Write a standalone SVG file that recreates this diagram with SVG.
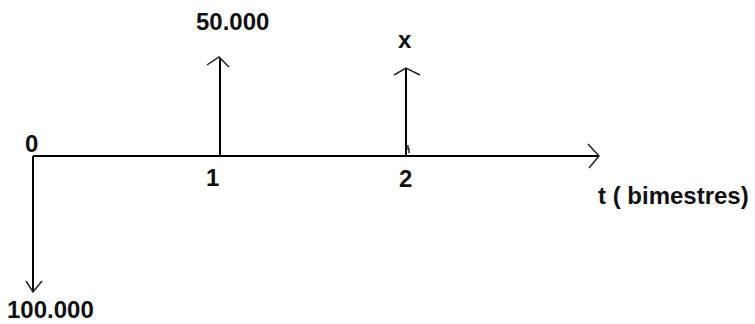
<svg xmlns="http://www.w3.org/2000/svg" width="755" height="324" viewBox="0 0 755 324">
<style>
.ln{stroke:#000;stroke-width:2;fill:none}
.hd{stroke:#222;stroke-width:1.5;fill:none;stroke-linejoin:miter}
.t{font-family:"Liberation Sans",Arial,sans-serif;font-weight:bold;font-size:24px;fill:#111}
</style>
<rect width="755" height="324" fill="#fff"/>
<g id="connectors">
<line class="ln" x1="33" y1="156" x2="598" y2="156"/>
<polyline class="hd" points="588,144 599,156 589,168"/>
<line class="ln" x1="33" y1="156" x2="33" y2="292"/>
<polyline class="hd" points="26,281 33,292 42,281"/>
<line class="ln" x1="220" y1="156" x2="220" y2="58"/>
<polyline class="hd" points="207,65 219,57 229,67"/>
<line class="ln" x1="406" y1="156" x2="406" y2="68"/>
<polyline class="hd" points="394,75 406,68 420,75"/>
<path class="hd" d="M406,146 h2 v3 h1 v4"/>
</g>
<g id="label-0"><text class="t" x="25" y="152">0</text></g>
<g id="label-1"><text class="t" x="206" y="186">1</text></g>
<g id="label-2"><text class="t" x="399" y="187">2</text></g>
<g id="label-50000"><text class="t" x="196" y="30">50.000</text></g>
<g id="label-x"><text class="t" x="398" y="48">x</text></g>
<g id="label-100000"><text class="t" x="7" y="318">100.000</text></g>
<g id="label-t"><text class="t" x="598" y="204">t ( bimestres)</text></g>
</svg>
